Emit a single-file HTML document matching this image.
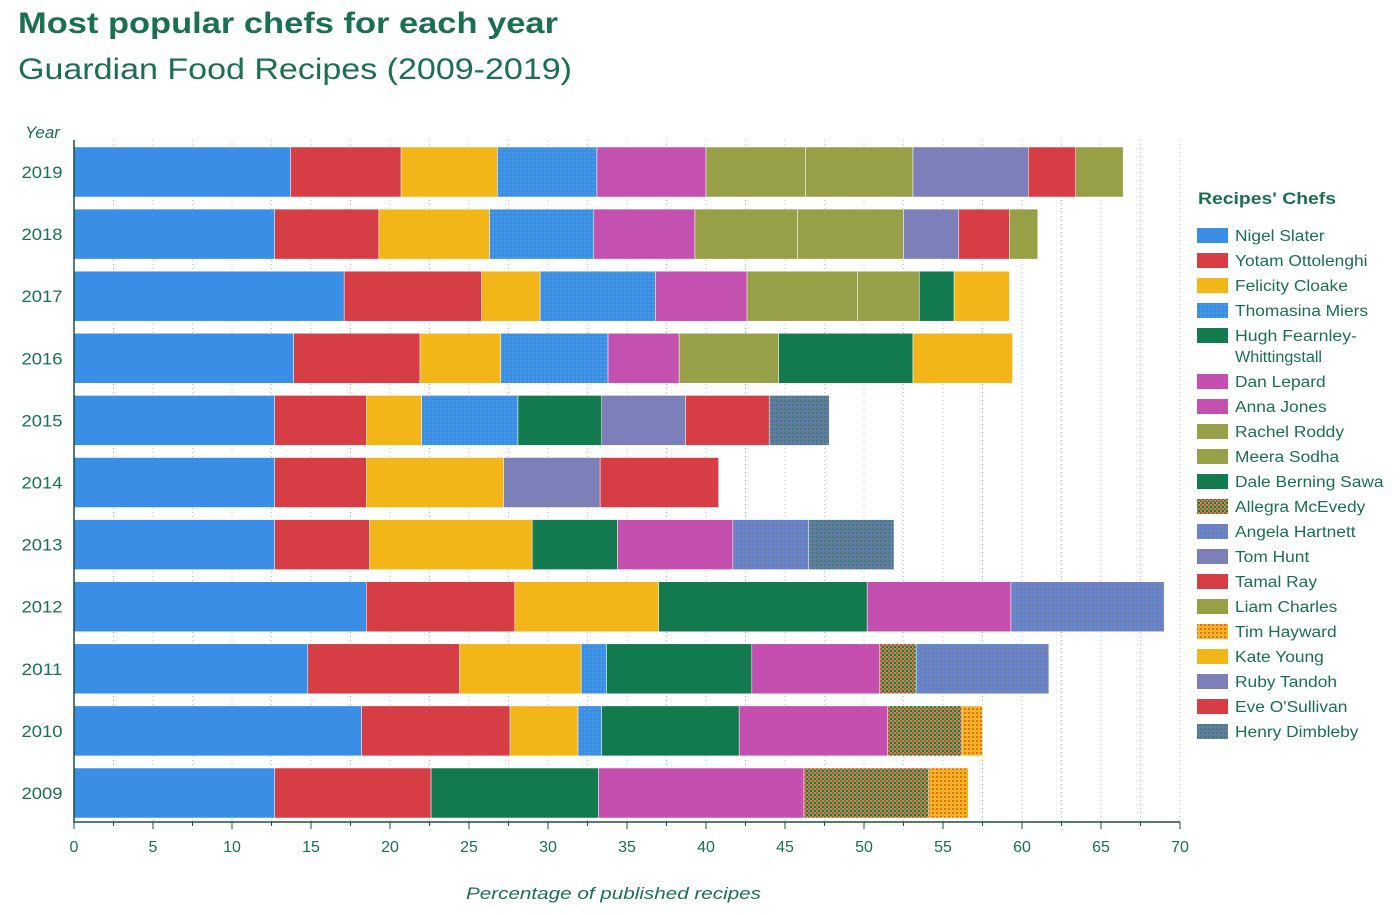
<!DOCTYPE html>
<html><head><meta charset="utf-8"><style>
body{margin:0;background:#fff;width:1400px;height:910px;overflow:hidden;font-family:"Liberation Sans",sans-serif}
</style></head><body>
<svg id="chart" width="1400" height="910" xmlns="http://www.w3.org/2000/svg">
<defs>
<pattern id="p-thom" width="4" height="4" patternUnits="userSpaceOnUse"><rect width="4" height="4" fill="#3a8ee6"/><rect width="2" height="2" fill="#4a9ae0"/></pattern>
<pattern id="p-alle" width="4" height="4" patternUnits="userSpaceOnUse"><rect width="4" height="4" fill="#97a046"/><rect width="2" height="2" fill="#d63d45"/><rect x="2" y="2" width="2" height="2" fill="#137a50"/></pattern>
<pattern id="p-ange" width="4" height="4" patternUnits="userSpaceOnUse"><rect width="4" height="4" fill="#7d7fb8"/><rect width="2" height="2" fill="#3a8ee6"/></pattern>
<pattern id="p-tim" width="4" height="4" patternUnits="userSpaceOnUse"><rect width="4" height="4" fill="#f2b619"/><rect width="2" height="2" fill="#e06a30"/></pattern>
<pattern id="p-henry" width="4" height="4" patternUnits="userSpaceOnUse"><rect width="4" height="4" fill="#6a78a8"/><rect width="2" height="2" fill="#2f8a6a"/></pattern>
</defs>
<text x="18" y="33" font-size="30" font-weight="bold" fill="#1a7050" textLength="540" lengthAdjust="spacingAndGlyphs">Most popular chefs for each year</text>
<text x="18" y="79" font-size="30" fill="#1a7050" textLength="554" lengthAdjust="spacingAndGlyphs">Guardian Food Recipes (2009-2019)</text>
<text x="25" y="138" font-size="17" font-style="italic" fill="#1a7050">Year</text>
<text x="466" y="899" font-size="17" font-style="italic" fill="#1a7050" textLength="295" lengthAdjust="spacingAndGlyphs">Percentage of published recipes</text>
<text x="1198" y="204" font-size="17" font-weight="bold" fill="#1a7050" textLength="138" lengthAdjust="spacingAndGlyphs">Recipes' Chefs</text>
<g id="grid"></g><g id="bars"></g><g id="axes"></g><g id="legend"></g>
</svg>
<script>
const chefs=["Nigel Slater","Yotam Ottolenghi","Felicity Cloake","Thomasina Miers","Hugh Fearnley-Whittingstall","Dan Lepard","Anna Jones","Rachel Roddy","Meera Sodha","Dale Berning Sawa","Allegra McEvedy","Angela Hartnett","Tom Hunt","Tamal Ray","Liam Charles","Tim Hayward","Kate Young","Ruby Tandoh","Eve O'Sullivan","Henry Dimbleby"];
const chefColors=["#3a8ee6","#d63d45","#f2b619","url(#p-thom)","#137a50","#c44fae","#c450b0","#97a046","#97a046","#137a50","url(#p-alle)","url(#p-ange)","#7d7fb8","#d63d45","#97a046","url(#p-tim)","#f2b619","#7d7fb8","#d63d45","url(#p-henry)"];
const years=["2019","2018","2017","2016","2015","2014","2013","2012","2011","2010","2009"];
const chefs2019=[0,1,2,3,6,7,8,12,13,14]; const vals2019=[13.7,7.0,6.1,6.3,6.9,6.3,6.8,7.3,3.0,3.0];
const chefs2018=[0,1,2,3,6,7,8,12,13,14]; const vals2018=[12.7,6.6,7.0,6.6,6.4,6.5,6.7,3.5,3.2,1.8];
const chefs2017=[0,1,2,3,6,7,8,9,16]; const vals2017=[17.1,8.7,3.7,7.3,5.8,7.0,3.9,2.2,3.5];
const chefs2016=[0,1,2,3,6,7,9,16]; const vals2016=[13.9,8.0,5.1,6.8,4.5,6.3,8.5,6.3];
const chefs2015=[0,1,2,3,4,17,18,19]; const vals2015=[12.7,5.8,3.5,6.1,5.3,5.3,5.3,3.8];
const chefs2014=[0,1,2,17,18]; const vals2014=[12.7,5.8,8.7,6.1,7.5];
const chefs2013=[0,1,2,4,5,11,19]; const vals2013=[12.7,6.0,10.3,5.4,7.3,4.8,5.4];
const chefs2012=[0,1,2,4,5,11]; const vals2012=[18.5,9.4,9.1,13.2,9.1,9.7];
const chefs2011=[0,1,2,3,4,5,10,11]; const vals2011=[14.8,9.6,7.7,1.6,9.2,8.1,2.3,8.4];
const chefs2010=[0,1,2,3,4,5,10,15]; const vals2010=[18.2,9.4,4.3,1.5,8.7,9.4,4.7,1.3];
const chefs2009=[0,1,4,5,10,15]; const vals2009=[12.7,9.9,10.6,13.0,7.9,2.5];
const xTicks=[0,5,10,15,20,25,30,35,40,45,50,55,60,65,70];
const rowChefs=[chefs2019,chefs2018,chefs2017,chefs2016,chefs2015,chefs2014,chefs2013,chefs2012,chefs2011,chefs2010,chefs2009];
const rowVals=[vals2019,vals2018,vals2017,vals2016,vals2015,vals2014,vals2013,vals2012,vals2011,vals2010,vals2009];
const NS="http://www.w3.org/2000/svg";
const x0=74,xs=15.8,rowTop=147,rowStep=62.1,barH=50;
const X=v=>x0+v*xs, Y=i=>rowTop+i*rowStep;
function el(t,a,p){const e=document.createElementNS(NS,t);for(const k in a)e.setAttribute(k,a[k]);p.appendChild(e);return e;}
const grid=document.getElementById('grid'),bars=document.getElementById('bars'),axes=document.getElementById('axes'),legend=document.getElementById('legend');
for(let v=2.5;v<=70;v+=2.5){const g=el('line',{x1:X(v),x2:X(v),y1:140,y2:822,stroke:'#b8bcd8','stroke-width':1,'stroke-dasharray':'1,3'},grid);

}
years.forEach((yr,i)=>{let acc=0;
 rowChefs[i].forEach((c,j)=>{const v=rowVals[i][j];
  const r=el('rect',{x:X(acc),y:Y(i),width:v*xs,height:barH,fill:chefColors[c],stroke:'#fff','stroke-width':0.5},bars);
  
  
  acc+=v;});
 const t=el('text',{x:42,y:Y(i)+barH/2+6,'font-size':17,fill:'#1a7050','text-anchor':'middle',textLength:41,lengthAdjust:'spacingAndGlyphs'},axes);t.textContent=yr;
 
 
});
const ya=el('line',{x1:74,x2:74,y1:140,y2:823,stroke:'#1a5040','stroke-width':1.5},axes);


const xa=el('line',{x1:74,x2:1180,y1:822,y2:822,stroke:'#1a5040','stroke-width':1.5},axes);


xTicks.forEach(v=>{el('line',{x1:X(v),x2:X(v),y1:822,y2:829,stroke:'#1a5040'},axes);
 if(v<70)el('line',{x1:X(v+2.5),x2:X(v+2.5),y1:822,y2:826,stroke:'#1a5040'},axes);
 const t=el('text',{x:X(v),y:852,'font-size':16,fill:'#1a7050','text-anchor':'middle'},axes);t.textContent=v;
 
 });
let ly=228;
chefs.forEach((c,i)=>{const g=el('g',{},legend);
 
 
 el('rect',{x:1197,y:ly,width:31,height:15,fill:chefColors[i]},g);
 if(i==4){const t=el('text',{x:1235,y:ly+13,'font-size':15.5,fill:'#1a7050',textLength:122,lengthAdjust:'spacingAndGlyphs'},g);t.textContent='Hugh Fearnley-';
  const t2=el('text',{x:1235,y:ly+34,'font-size':15.5,fill:'#1a7050',textLength:87,lengthAdjust:'spacingAndGlyphs'},g);t2.textContent='Whittingstall';ly+=46;}
 else{const t=el('text',{x:1235,y:ly+13,'font-size':15.5,fill:'#1a7050'},g);t.textContent=c;
  const w=t.getComputedTextLength();t.setAttribute('textLength',(w*1.12).toFixed(1));t.setAttribute('lengthAdjust','spacingAndGlyphs');ly+=25;}
});
</script>
</body></html>
